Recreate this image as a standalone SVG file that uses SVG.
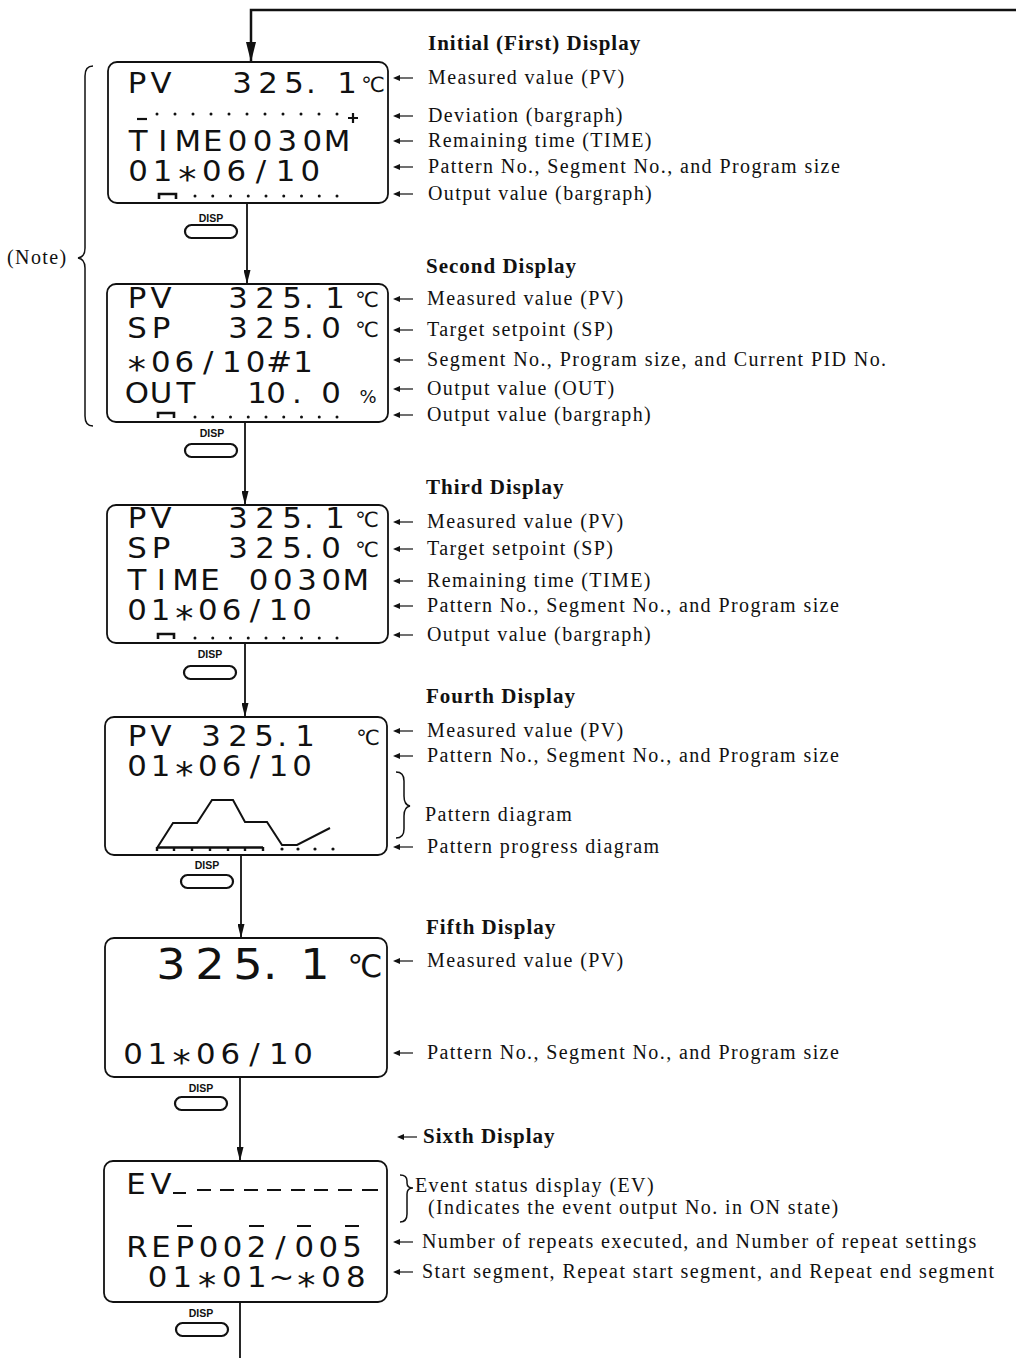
<svg xmlns="http://www.w3.org/2000/svg" width="1016" height="1358" viewBox="0 0 1016 1358">
<style>
.box{fill:none;stroke:#111;stroke-width:1.8}
.lcd{font-family:"DejaVu Sans","Liberation Sans",sans-serif;font-size:28px;fill:#111;text-anchor:middle}
.big{font-size:42px}
.ast{font-size:33px}
.deg{font-family:"DejaVu Sans",sans-serif;font-size:21px;fill:#111;text-anchor:middle}
.pct{font-family:"DejaVu Sans",sans-serif;font-size:18px;fill:#111;text-anchor:middle}
.lbl{font-family:"Liberation Serif","Times New Roman",serif;font-size:20px;letter-spacing:1.4px;fill:#111}
.hdr{font-family:"Liberation Serif","Times New Roman",serif;font-size:21px;font-weight:bold;letter-spacing:1px;fill:#111}
.disp{font-family:"Liberation Sans",Arial,sans-serif;font-size:10.5px;font-weight:bold;fill:#111;text-anchor:middle}
.btn{fill:none;stroke:#111;stroke-width:2.2}
.conn{fill:none;stroke:#111;stroke-width:1.8}
.mark{fill:none;stroke:#111;stroke-width:2.2}
.brace{fill:none;stroke:#111;stroke-width:1.5}
.dot{fill:#111}
</style>
<defs>
<marker id="ah" viewBox="0 0 14 7" refX="14" refY="3.5" markerWidth="14" markerHeight="7" markerUnits="userSpaceOnUse" orient="auto"><path d="M0,0 L14,3.5 L0,7 z" fill="#111"/></marker>
<marker id="ahL" viewBox="0 0 20 10" refX="20" refY="5" markerWidth="20" markerHeight="10" markerUnits="userSpaceOnUse" orient="auto"><path d="M0,0 L20,5 L0,10 z" fill="#111"/></marker>
<g id="dots9"><circle cx="0" cy="0" r="1.5"/><circle cx="17.75" cy="0" r="1.5"/><circle cx="35.5" cy="0" r="1.5"/><circle cx="53.25" cy="0" r="1.5"/><circle cx="71" cy="0" r="1.5"/><circle cx="88.75" cy="0" r="1.5"/><circle cx="106.5" cy="0" r="1.5"/><circle cx="124.25" cy="0" r="1.5"/><circle cx="142" cy="0" r="1.5"/></g>
<g id="btn"><rect x="0" y="0" width="52" height="13" rx="6.5" class="btn"/></g>
<g id="la"><path d="M396 0 H413" stroke="#111" stroke-width="1.2" fill="none"/><path d="M393 0 L400 -3 L400 3 z" fill="#111"/></g>
</defs>

<g id="connectors">
<path class="conn" style="stroke-width:2.5" d="M1016 10 H251 V62" marker-end="url(#ahL)"/>
<line class="conn" x1="247" y1="203" x2="247" y2="284" marker-end="url(#ah)"/>
<line class="conn" x1="245" y1="422" x2="245" y2="505" marker-end="url(#ah)"/>
<line class="conn" x1="245" y1="643" x2="245" y2="717" marker-end="url(#ah)"/>
<line class="conn" x1="241" y1="855" x2="241" y2="938" marker-end="url(#ah)"/>
<line class="conn" x1="240" y1="1077" x2="240" y2="1161" marker-end="url(#ah)"/>
<line class="conn" x1="240" y1="1302" x2="240" y2="1358"/>
</g>

<g id="note">
<text class="lbl" x="7" y="264">(Note)</text>
<path class="brace" d="M93 66 Q85 66 85 76 L85 248 Q85 257 78 258 Q85 259 85 268 L85 416 Q85 426 93 426"/>
</g>

<g id="display1">
<rect class="box" x="108" y="62" width="280" height="141" rx="9"/>
<g transform="scale(1.1,1)">
<text class="lcd" x="124.5 146.4 181.8 220 243.6 267.3 282.7 300 315.5" y="93">PV 325. 1</text>
<text class="lcd" x="125.5 148.1 170.7 193.4 216 238.6 261.3 283.9 306.5" y="151">TIME0030M</text>
<text class="lcd" x="125.5 147.8 170.2 192.5 214.9 237.3 259.6 282" y="181">01<tspan class="ast" dy="10">*</tspan><tspan dy="-10">06/10</tspan></text>
</g>
<text class="deg" x="373" y="92">℃</text>
<line class="mark" x1="137" y1="119" x2="147" y2="119"/>
<g class="dot"><circle cx="157" cy="114" r="1.5"/><circle cx="175" cy="114" r="1.5"/><circle cx="193" cy="114" r="1.5"/><circle cx="211" cy="114" r="1.5"/><circle cx="229" cy="114" r="1.5"/><circle cx="247" cy="114" r="1.5"/><circle cx="265" cy="114" r="1.5"/><circle cx="283" cy="114" r="1.5"/><circle cx="301" cy="114" r="1.5"/><circle cx="319" cy="114" r="1.5"/><circle cx="337" cy="114" r="1.5"/></g>
<path class="mark" d="M348 118 H358 M353 113 V123"/>
<path class="mark" style="stroke-width:2.6" d="M159 199 V194 H176 V199"/>
<use href="#dots9" x="195" y="196" class="dot"/>
<text class="disp" x="211" y="222">DISP</text>
<use href="#btn" x="185" y="225"/>
</g>

<g id="display2">
<rect class="box" x="107" y="284" width="281" height="138" rx="9"/>
<g transform="scale(1.1,1)">
<text class="lcd" x="124.5 146.4 181.8 216.4 240.9 265.5 280.9 292.7 304.5" y="308">PV 325. 1</text>
<text class="lcd" x="124.5 146.4 181.8 216.4 240.9 265.5 280.9 290.9 300.9" y="338">SP 325. 0</text>
<text class="lcd" x="124.5 146.1 167.6 189.2 210.7 232.3 253.8 275.4" y="372"><tspan class="ast" dy="9">*</tspan><tspan dy="-9">06/10#1</tspan></text>
<text class="lcd" x="124.5 146.4 169.1 200 233.6 250.9 270 285.5 300.9" y="403">OUT 10. 0</text>
</g>
<text class="deg" x="367" y="307">℃</text>
<text class="deg" x="367" y="337">℃</text>
<text class="pct" x="368" y="403">%</text>
<path class="mark" style="stroke-width:2.6" d="M158 418 V413 H174 V418"/>
<use href="#dots9" x="195" y="417" class="dot"/>
<text class="disp" x="212" y="437">DISP</text>
<use href="#btn" x="185" y="444"/>
</g>

<g id="display3">
<rect class="box" x="107" y="505" width="281" height="138" rx="9"/>
<g transform="scale(1.1,1)">
<text class="lcd" x="124.5 146.4 181.8 216.4 240.9 265.5 280.9 292.7 304.5" y="528">PV 325. 1</text>
<text class="lcd" x="124.5 146.4 181.8 216.4 240.9 265.5 280.9 290.9 300.9" y="558">SP 325. 0</text>
<text class="lcd" x="124.5 146.6 168.7 190.8 212.9 235 257.1 279.2 301.3 323.4" y="590">TIME 0030M</text>
<text class="lcd" x="124.5 146 167.5 188.9 210.4 231.8 253.3 274.7" y="620">01<tspan class="ast" dy="10">*</tspan><tspan dy="-10">06/10</tspan></text>
</g>
<text class="deg" x="367" y="527">℃</text>
<text class="deg" x="367" y="557">℃</text>
<path class="mark" style="stroke-width:2.6" d="M158 639 V634 H174 V639"/>
<use href="#dots9" x="195" y="638" class="dot"/>
<text class="disp" x="210" y="658">DISP</text>
<use href="#btn" x="184" y="666"/>
</g>

<g id="display4">
<rect class="box" x="105" y="717" width="282" height="138" rx="9"/>
<g transform="scale(1.1,1)">
<text class="lcd" x="124.5 146.4 169.1 191.8 216.4 240 256.4 266.4 277.3" y="746">PV 325. 1</text>
<text class="lcd" x="124.5 146 167.5 188.9 210.4 231.8 253.3 274.7" y="776">01<tspan class="ast" dy="10">*</tspan><tspan dy="-10">06/10</tspan></text>
</g>
<text class="deg" x="368" y="745">℃</text>
<polyline class="mark" style="stroke-width:2" points="157,848 173,823 197,823 212,800 233,800 245,822 267,822 282,845 297,845 330,828"/>
<path class="mark" style="stroke-width:2.4" d="M157 847.5 H263 M157 847 V851 M174 847 V851 M192 847 V851 M210 847 V851 M228 847 V851 M245 847 V851 M263 847 V851"/>
<g class="dot"><circle cx="282" cy="849" r="1.6"/><circle cx="298" cy="849" r="1.6"/><circle cx="315" cy="849" r="1.6"/><circle cx="333" cy="849" r="1.6"/></g>
<text class="disp" x="207" y="869">DISP</text>
<use href="#btn" x="181" y="875"/>
</g>

<g id="display5">
<rect class="box" x="105" y="938" width="282" height="139" rx="9"/>
<g transform="scale(1.1,1)">
<text class="lcd big" x="155.5 190.9 225.5 245.5 265.5 286.4" y="979">325. 1</text>
<text class="lcd" x="120.9 143 165.1 187.2 209.3 231.4 253.5 275.5" y="1064">01<tspan class="ast" dy="10">*</tspan><tspan dy="-10">06/10</tspan></text>
</g>
<text class="deg" style="font-size:31px" x="365" y="977">℃</text>
<text class="disp" x="201" y="1092">DISP</text>
<use href="#btn" x="175" y="1097"/>
</g>

<g id="display6">
<rect class="box" x="104" y="1161" width="283" height="141" rx="9"/>
<g transform="scale(1.1,1)">
<text class="lcd" x="123.6 146.4" y="1194">EV</text>
<text class="lcd" x="124.5 146.3 168 189.7 211.5 233.2 254.9 276.6 298.4 320.1" y="1257">REP002/005</text>
<text class="lcd" x="143.2 165.7 188.3 210.8 233.4 255.9 278.5 301 323.5" y="1287">01<tspan class="ast" dy="10">*</tspan><tspan dy="-10">01~</tspan><tspan class="ast" dy="10">*</tspan><tspan dy="-10">08</tspan></text>
</g>
<path class="mark" d="M173 1193 H186 M197 1190 H211 M220 1190 H234 M244 1190 H258 M267 1190 H281 M291 1190 H305 M314 1190 H328 M338 1190 H352 M362 1190 H378"/>
<path class="mark" d="M177 1226 H192 M249 1226 H264 M297 1226 H311 M345 1226 H359"/>
<text class="disp" x="201" y="1317">DISP</text>
<use href="#btn" x="176" y="1323"/>
</g>

<g id="labels1">
<text class="hdr" x="428" y="50">Initial (First) Display</text>
<use href="#la" y="78"/><text class="lbl" x="428" y="84">Measured value (PV)</text>
<use href="#la" y="116"/><text class="lbl" x="428" y="122">Deviation (bargraph)</text>
<use href="#la" y="141"/><text class="lbl" x="428" y="147">Remaining time (TIME)</text>
<use href="#la" y="167"/><text class="lbl" x="428" y="173">Pattern No., Segment No., and Program size</text>
<use href="#la" y="194"/><text class="lbl" x="428" y="200">Output value (bargraph)</text>
</g>

<g id="labels2">
<text class="hdr" x="426" y="273">Second Display</text>
<use href="#la" y="299"/><text class="lbl" x="427" y="305">Measured value (PV)</text>
<use href="#la" y="330"/><text class="lbl" x="427" y="336">Target setpoint (SP)</text>
<use href="#la" y="360"/><text class="lbl" x="427" y="366">Segment No., Program size, and Current PID No.</text>
<use href="#la" y="389"/><text class="lbl" x="427" y="395">Output value (OUT)</text>
<use href="#la" y="415"/><text class="lbl" x="427" y="421">Output value (bargraph)</text>
</g>

<g id="labels3">
<text class="hdr" x="426" y="494">Third Display</text>
<use href="#la" y="522"/><text class="lbl" x="427" y="528">Measured value (PV)</text>
<use href="#la" y="549"/><text class="lbl" x="427" y="555">Target setpoint (SP)</text>
<use href="#la" y="581"/><text class="lbl" x="427" y="587">Remaining time (TIME)</text>
<use href="#la" y="606"/><text class="lbl" x="427" y="612">Pattern No., Segment No., and Program size</text>
<use href="#la" y="635"/><text class="lbl" x="427" y="641">Output value (bargraph)</text>
</g>

<g id="labels4">
<text class="hdr" x="426" y="703">Fourth Display</text>
<use href="#la" y="731"/><text class="lbl" x="427" y="737">Measured value (PV)</text>
<use href="#la" y="756"/><text class="lbl" x="427" y="762">Pattern No., Segment No., and Program size</text>
<path class="brace" d="M396 772 Q404 772 404 781 L404 796 Q404 805 410 806 Q404 807 404 816 L404 829 Q404 838 396 838"/>
<text class="lbl" x="425" y="821">Pattern diagram</text>
<use href="#la" y="847"/><text class="lbl" x="427" y="853">Pattern progress diagram</text>
</g>

<g id="labels5">
<text class="hdr" x="426" y="934">Fifth Display</text>
<use href="#la" y="961"/><text class="lbl" x="427" y="967">Measured value (PV)</text>
<use href="#la" y="1053"/><text class="lbl" x="427" y="1059">Pattern No., Segment No., and Program size</text>
</g>

<g id="labels6">
<use href="#la" x="4" y="1137"/><text class="hdr" x="423" y="1143">Sixth Display</text>
<path class="brace" d="M400 1175 Q407 1175 407 1181 L407 1183 Q407 1188 413 1188 Q407 1188 407 1194 L407 1214 Q407 1222 400 1222"/>
<text class="lbl" x="415" y="1192">Event status display (EV)</text>
<text class="lbl" x="428" y="1214">(Indicates the event output No. in ON state)</text>
<use href="#la" y="1242"/><text class="lbl" x="422" y="1248">Number of repeats executed, and Number of repeat settings</text>
<use href="#la" y="1272"/><text class="lbl" x="422" y="1278">Start segment, Repeat start segment, and Repeat end segment</text>
</g>
</svg>
